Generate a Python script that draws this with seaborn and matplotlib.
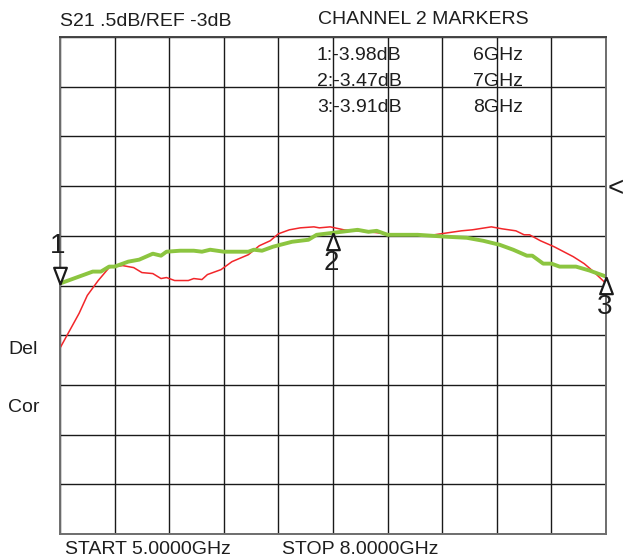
import numpy as np
import pandas as pd
import matplotlib
matplotlib.use("Agg")
import matplotlib.pyplot as plt
import matplotlib.transforms as mtransforms
import seaborn as sns
from matplotlib import font_manager

# trace values (GHz, dB)
green_freq = [6.00, 6.07, 6.12, 6.15, 6.18, 6.20, 6.25, 6.29, 6.34, 6.37, 6.39, 6.44,
              6.49, 6.52, 6.55, 6.60, 6.69, 6.71, 6.74, 6.78, 6.85, 6.91, 6.94, 7.00,
              7.09, 7.13, 7.16, 7.20, 7.31, 7.42, 7.49, 7.55, 7.61, 7.66, 7.71, 7.73,
              7.77, 7.80, 7.83, 7.89, 7.94, 8.00]
green_db = [-3.98, -3.91, -3.86, -3.86, -3.81, -3.81, -3.76, -3.74, -3.68, -3.70, -3.66, -3.65,
            -3.65, -3.66, -3.64, -3.66, -3.66, -3.64, -3.65, -3.61, -3.56, -3.54, -3.49, -3.47,
            -3.44, -3.46, -3.45, -3.49, -3.49, -3.51, -3.52, -3.55, -3.59, -3.64, -3.70, -3.70,
            -3.78, -3.78, -3.81, -3.81, -3.85, -3.91]

red_freq = [6.00, 6.07, 6.10, 6.14, 6.18, 6.20, 6.23, 6.27, 6.30, 6.34, 6.37, 6.39,
            6.42, 6.47, 6.49, 6.52, 6.54, 6.59, 6.63, 6.69, 6.73, 6.77, 6.80, 6.84,
            6.88, 6.93, 6.95, 6.99, 7.04, 7.13, 7.20, 7.28, 7.37, 7.42, 7.47, 7.51,
            7.58, 7.62, 7.67, 7.70, 7.72, 7.76, 7.81, 7.88, 7.92, 7.95, 8.00]
red_db = [-4.63, -4.28, -4.10, -3.95, -3.82, -3.81, -3.80, -3.82, -3.87, -3.88, -3.93, -3.92,
          -3.95, -3.95, -3.93, -3.94, -3.89, -3.84, -3.76, -3.69, -3.60, -3.55, -3.48, -3.44,
          -3.42, -3.41, -3.42, -3.41, -3.44, -3.46, -3.48, -3.49, -3.49, -3.47, -3.45, -3.44,
          -3.41, -3.43, -3.45, -3.49, -3.49, -3.55, -3.61, -3.71, -3.78, -3.85, -3.98]

marker_labels = ["1", "2", "3"]
marker_freq = [6.0, 7.0, 8.0]
marker_db = [-3.98, -3.47, -3.91]

ref_db = -3.0
db_per_div = 0.5
start_ghz, stop_ghz = 6.0, 8.0

sns.set_style("white")
names = {f.name for f in font_manager.fontManager.ttflist}
narrow = "Liberation Sans Narrow" if "Liberation Sans Narrow" in names else "Liberation Sans"
plt.rcParams["font.family"] = ["Liberation Sans", "DejaVu Sans"]

W, H = 623, 560
fig = plt.figure(figsize=(W / 100, H / 100), dpi=100)
ax = fig.add_axes([60 / W, 26 / H, 546 / W, 497 / H])

df_red = pd.DataFrame({"freq": red_freq, "db": red_db})
df_green = pd.DataFrame({"freq": green_freq, "db": green_db})
sns.lineplot(data=df_red, x="freq", y="db", ax=ax, color="#f2262a", lw=1.1, estimator=None, sort=False)
sns.lineplot(data=df_green, x="freq", y="db", ax=ax, color="#8cc540", lw=2.8, estimator=None, sort=False)

top = ref_db + 3 * db_per_div
bottom = ref_db - 7 * db_per_div
ax.set_xlim(start_ghz, stop_ghz)
ax.set_ylim(bottom, top)
ax.set_xticks(np.linspace(start_ghz, stop_ghz, 11))
ax.set_yticks(np.linspace(bottom, top, 11))
ax.grid(True, color="#1a1a1a", lw=1.0)
ax.set_axisbelow(True)
ax.tick_params(length=3, width=1, color="#1a1a1a", direction="out",
               labelbottom=False, labelleft=False)
ax.set_xlabel("")
ax.set_ylabel("")
for side, sp in ax.spines.items():
    sp.set_color("#6e6e6e" if side != "top" else "#444444")
    sp.set_linewidth(1.4)

# marker triangles: tip sits on the trace
down_tri = [(0, 0), (-0.38, 1.0), (0.38, 1.0), (0, 0)]
up_tri = [(0, 0), (-0.38, -1.0), (0.38, -1.0), (0, 0)]
for lab, f, d in zip(marker_labels, marker_freq, marker_db):
    if lab == "1":
        ax.plot([f], [d], marker=down_tri, ms=24, mfc="white", mec="#1a1a1a", mew=1.6,
                clip_on=False, zorder=5)
        ax.annotate(lab, (f, d), xytext=(-1.5, 27), textcoords="offset points",
                    ha="center", va="center", fontsize=20, family=narrow, color="#1e1e1e",
                    annotation_clip=False)
    else:
        ax.plot([f], [d], marker=up_tri, ms=24, mfc="white", mec="#1a1a1a", mew=1.6,
                clip_on=False, zorder=5)
        ax.annotate(lab, (f, d), xytext=(-1, -22), textcoords="offset points",
                    ha="center", va="center", fontsize=20, family=narrow, color="#1e1e1e",
                    annotation_clip=False)

# reference level arrow on the right edge
trans = mtransforms.blended_transform_factory(ax.transAxes, ax.transData)
ax.annotate("<", (1.0, ref_db), xycoords=trans, xytext=(1, -2), textcoords="offset points",
            ha="left", va="center", fontsize=20, color="#1e1e1e", annotation_clip=False)

txt = dict(color="#1e1e1e", fontsize=14, va="center")
fig.text(60 / W, 1 - 21 / H, "S21 .5dB/REF -3dB", ha="left", **txt)
fig.text(318 / W, 1 - 20 / H, "CHANNEL 2 MARKERS", ha="left", **txt)
rows_y = [55, 81, 107]
for lab, f, d, yy in zip(marker_labels, marker_freq, marker_db, rows_y):
    fig.text(317 / W, 1 - yy / H, f"{lab}:{d:.2f}dB", ha="left", **txt)
    fig.text(473 / W, 1 - yy / H, f"{f:g}GHz", ha="left", **txt)
fig.text(8 / W, 1 - 349 / H, "Del", ha="left", **txt)
fig.text(8 / W, 1 - 407 / H, "Cor", ha="left", **txt)
fig.text(65 / W, 1 - 550 / H, "START 5.0000GHz", ha="left", **txt)
fig.text(282 / W, 1 - 550 / H, "STOP 8.0000GHz", ha="left", **txt)

fig.savefig("out.png", dpi=100)
